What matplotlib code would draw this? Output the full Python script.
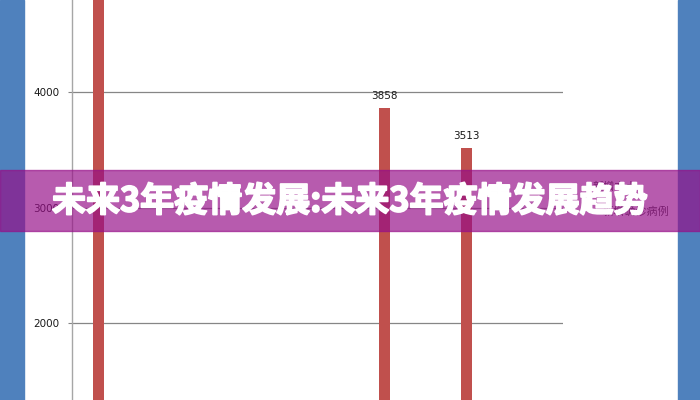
import matplotlib
matplotlib.use('Agg')
import matplotlib.pyplot as plt
import matplotlib.patheffects as pe
from matplotlib.patches import Rectangle

# ---------- data ----------
bar_pos = [0, 7, 9]            # category index of the visible bars
bar_values = [6000, 3858, 3513]  # first bar runs off the top, value unseen
bar_labels = ['', '3858', '3513']
y_ticks = [2000, 3000, 4000]
legend_lines = ['新增本土', '新增确诊病例']
title = '未来3年疫情发展:未来3年疫情发展趋势'

plt.rcParams['font.family'] = ['Noto Sans CJK SC', 'DejaVu Sans']

W, H = 700, 400
fig = plt.figure(figsize=(7, 4), dpi=100)
fig.patch.set_facecolor('white')

# blue strips on both sides
fig.patches.append(Rectangle((0, 0), 24 / W, 1, transform=fig.transFigure,
                             color='#4F81BD', zorder=0))
fig.patches.append(Rectangle((678 / W, 0), 22 / W, 1, transform=fig.transFigure,
                             color='#4F81BD', zorder=0))

ax = fig.add_axes([72 / W, 0, 491 / W, 1])
ax.set_facecolor('none')
ax.set_xlim(-0.5, 11.5)
ax.set_ylim(1333, 4797)

bars = ax.bar([p + 0.145 for p in bar_pos], bar_values, width=0.27,
              color='#C0504D', zorder=3)
ax.bar_label(bars, labels=bar_labels, padding=5, fontsize=7.5,
             color='#1a1a1a', family='DejaVu Sans')

ax.set_yticks(y_ticks)
ax.set_yticklabels([str(v) for v in y_ticks], fontsize=7.5, color='#1a1a1a',
                   family='DejaVu Sans')
ax.yaxis.grid(True, color='#868686', linewidth=0.9)
ax.set_axisbelow(True)
ax.tick_params(axis='y', direction='out', length=3, width=0.8,
               color='#868686', pad=6)
ax.tick_params(axis='x', bottom=False, labelbottom=False)
for s in ['top', 'right', 'bottom']:
    ax.spines[s].set_visible(False)
ax.spines['left'].set_color('#A6A6A6')
ax.spines['left'].set_linewidth(1.0)

# legend text (mostly hidden by banner)
fig.text(593 / W, 1 - 187 / H, legend_lines[0], fontsize=8, color='#404040',
         va='center', ha='left')
fig.text(603 / W, 1 - 212 / H, legend_lines[1], fontsize=8, color='#404040',
         va='center', ha='left')

# purple banner over the chart
fig.patches.append(Rectangle((0, 1 - 231 / H), 1, 61 / H, transform=fig.transFigure,
                             color='#960E88', alpha=0.68, zorder=10))
t = fig.text(52 / W, 1 - 201 / H, title, fontsize=24.5, fontweight='black',
             color='white', va='center', ha='left', zorder=11)
t.set_path_effects([pe.Stroke(linewidth=1.3, foreground='white'), pe.Normal()])

fig.savefig('out.png', dpi=100)
